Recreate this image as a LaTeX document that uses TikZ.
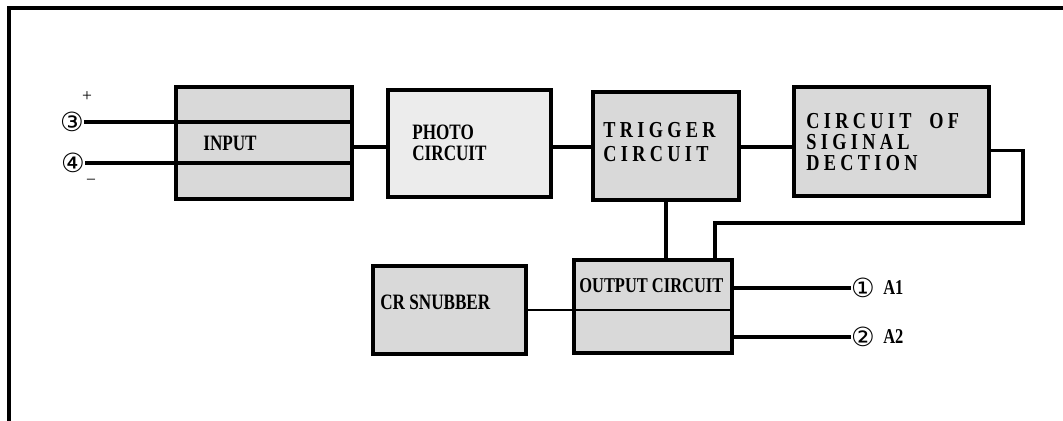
\documentclass[tikz,border=0pt]{standalone}
\usepackage{fontspec}
\setmainfont{Liberation Serif}
\newfontfamily\narrowfont[FakeStretch=0.78]{Liberation Serif}
\newfontfamily\spacedfont[FakeStretch=0.8, LetterSpace=19]{Liberation Serif}
\newfontfamily\symfont{DejaVu Sans}
\usetikzlibrary{calc}
\definecolor{cBlock}{RGB}{217,217,217}
\definecolor{cLight}{RGB}{236,236,236}
\tikzset{
	blk/.style   ={rectangle, draw=black, line width=2pt, fill=cBlock, inner sep=0pt},
	lbl/.style   ={anchor=west, inner sep=0pt, align=left, font=\narrowfont\bfseries\fontsize{12.5}{12}\selectfont},
	spaced/.style={anchor=west, inner sep=0pt, align=left, font=\spacedfont\bfseries\fontsize{13}{12.2}\selectfont},
	term/.style  ={inner sep=0pt, font=\symfont\fontsize{15}{15}\selectfont},
	pin/.style   ={anchor=west, inner sep=0pt, font=\narrowfont\bfseries\fontsize{12}{12}\selectfont},
	wire/.style  ={line width=2pt},
	thinwire/.style={line width=1.3pt},
}

\begin{document}
\begin{tikzpicture}[x=0.02cm, y=-0.02cm]
	\useasboundingbox (0,0) rectangle (1063,421);
	% frame
	\draw[wire] (1063,8) -- (9,8) -- (9,421);
	% blocks
	\node[blk, minimum width=3.52cm, minimum height=2.24cm] (input) at (264,143) {};
	\node[blk, fill=cLight, minimum width=3.26cm, minimum height=2.14cm] (photo) at (469.5,143.5) {};
	\node[blk, minimum width=2.92cm, minimum height=2.16cm] (trigger) at (666,146) {};
	\node[blk, minimum width=3.9cm, minimum height=2.18cm] (sigdet) at (891.5,141.5) {};
	\node[blk, minimum width=3.16cm, minimum height=1.86cm] (output) at (653,306.5) {};
	\node[blk, minimum width=3.06cm, minimum height=1.76cm] (snubber) at (449.5,310) {};
	% block texts
	\node[lbl] (inputtxt) at (203,143) {INPUT};
	\node[lbl] (phototxt) at (412,143) {PHOTO\\CIRCUIT};
	\node[spaced, font=\spacedfont\bfseries\fontsize{13}{13.2}\selectfont] (triggertxt) at (603,142) {TRIGGER\\CIRCUIT};
	\node[spaced] (sigdettxt) at (806,142) {CIRCUIT\ \ OF\\SIGINAL\\DECTION};
	\node[lbl, font=\narrowfont\bfseries\fontsize{12}{12}\selectfont] (outputtxt) at (579,286) {OUTPUT CIRCUIT};
	\node[lbl] (snubbertxt) at (380,302) {CR SNUBBER};
	% terminals
	\node[term] (t3) at (72,122) {③};
	\node[term] (t4) at (73,163) {④};
	\node[term] (t1) at (863,288) {①};
	\node[term] (t2) at (863,337) {②};
	\node[inner sep=0pt, font=\fontsize{10}{10}\selectfont] (plus) at (87,97) {+};
	\node[inner sep=0pt, font=\fontsize{10}{10}\selectfont] (minus) at (91,182) {−};
	\node[pin] (a1) at (883,288) {A1};
	\node[pin] (a2) at (883,337) {A2};
	% connections
	\coordinate (mainrow) at (0,147);
	\draw[wire] (t3.east) -- (t3.east -| input.east);
	\draw[wire] (t4.east) -- (t4.east -| input.east);
	\draw[wire] (input.east |- mainrow) -- (photo.west |- mainrow);
	\draw[wire] (photo.east |- mainrow) -- (trigger.west |- mainrow);
	\draw[wire] (trigger.east |- mainrow) -- (sigdet.west |- mainrow);
	\coordinate (bend) at (1023,223);
	\coordinate (fbx) at (715,0);
	\draw[wire] ($(sigdet.east)+(0,9)$) -| (bend) -| (fbx |- output.north);
	\draw[wire] (trigger.south) -- (trigger.south |- output.north);
	\draw[thinwire] (snubber.east) -- (snubber.east -| output.east);
	\draw[wire] (output.east |- t1) -- (t1.west);
	\draw[wire] (output.east |- t2) -- (t2.west);
\end{tikzpicture}
\end{document}
